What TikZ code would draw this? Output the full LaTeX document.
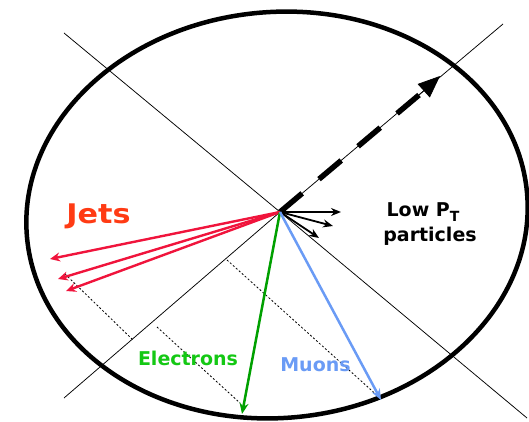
\documentclass[tikz,border=0pt]{standalone}
\usepackage{fontspec}
\usepackage{graphicx}
\setmainfont{DejaVu Sans}
\usetikzlibrary{arrows.meta}
\definecolor{jetred}{HTML}{F0143C}
\definecolor{jettext}{HTML}{FF3B14}
\definecolor{eltext}{HTML}{14C814}
\definecolor{elarrow}{HTML}{00A000}
\definecolor{mublue}{HTML}{6A9BF5}
\tikzset{
  rim/.style={line width=4.5pt},
  axisline/.style={line width=0.75pt},
  projline/.style={line width=0.8pt, dash pattern=on 2pt off 2pt},
  jetarrow/.style={jetred, line width=2.4pt, -{Stealth[length=10pt,width=9pt]}},
  lowarrow/.style={black, line width=1.8pt, -{Stealth[length=10pt,width=8pt]}},
  elarrowstyle/.style={elarrow, line width=2.5pt, -{Stealth[length=11pt,width=9pt]}},
  muarrowstyle/.style={mublue, line width=2.5pt, -{Stealth[length=11pt,width=9pt]}},
  bigdash/.style={line width=5.5pt, dash pattern=on 29pt off 22pt},
  bighead/.style={line width=0.75pt, -{Triangle[length=22pt,width=18pt]}},
  lbl/.style={anchor=base, inner sep=0pt, font=\fontsize{19}{22}\selectfont\bfseries}
}
\begin{document}
\begin{tikzpicture}[x=1pt,y=-1pt]
\useasboundingbox (0,0) rectangle (529,422);
\coordinate (O) at (280,212);
% axis lines
\coordinate (nw) at (64,33);
\coordinate (se) at (527,418);
\coordinate (sw) at (64,398);
\coordinate (ne) at (503,24);
\draw[axisline] (nw) -- (O) -- (se);
\draw[axisline] (sw) -- (O) -- (ne);
% detector rim
\draw[rim, rotate around={5:(277,215)}] (277,215) ellipse [x radius=251pt, y radius=203pt];
% projection lines
\coordinate (d1a) at (65,274);  \coordinate (d1b) at (133,340);
\coordinate (d2a) at (157,327); \coordinate (d2b) at (240,403);
\coordinate (d3a) at (227,260); \coordinate (d3b) at (380,398);
\draw[projline] (d1a) -- (d1b);
\draw[projline] (d2a) -- (d2b);
\draw[projline] (d3a) -- (d3b);
% missing energy
\coordinate (dEnd) at (419,95);
\coordinate (mtip) at (440,76);
\draw[bigdash] (O) -- (dEnd);
\draw[bighead] (dEnd) -- (mtip);
% jets
\coordinate (j1) at (50,259);
\coordinate (j2) at (58,279);
\coordinate (j3) at (66,291);
\draw[jetarrow] (O) -- (j1);
\draw[jetarrow] (O) -- (j2);
\draw[jetarrow] (O) -- (j3);
% low pt
\coordinate (l1) at (341,212);
\coordinate (l2) at (333,226);
\coordinate (l3) at (319,238);
\draw[lowarrow] (O) -- (l1);
\draw[lowarrow] (O) -- (l2);
\draw[lowarrow] (O) -- (l3);
% electron, muon
\coordinate (etip) at (242,414);
\coordinate (mutip) at (381,400);
\draw[elarrowstyle] (O) -- (etip);
\draw[muarrowstyle] (O) -- (mutip);
% labels
\node[lbl, text=jettext, font=\fontsize{27}{30}\selectfont\bfseries] (jets) at (98.5,223) {\scalebox{1.12}[1]{Jets}};
\node[lbl, text=eltext] (electrons) at (188,365) {Electrons};
\node[lbl, text=mublue] (muons) at (315.5,371) {Muons};
\node[lbl] (lowpt) at (423,216) {Low P\raisebox{-0.3em}{\fontsize{14}{16}\selectfont T}};
\node[lbl] (particles) at (430,241) {particles};
\end{tikzpicture}
\end{document}
